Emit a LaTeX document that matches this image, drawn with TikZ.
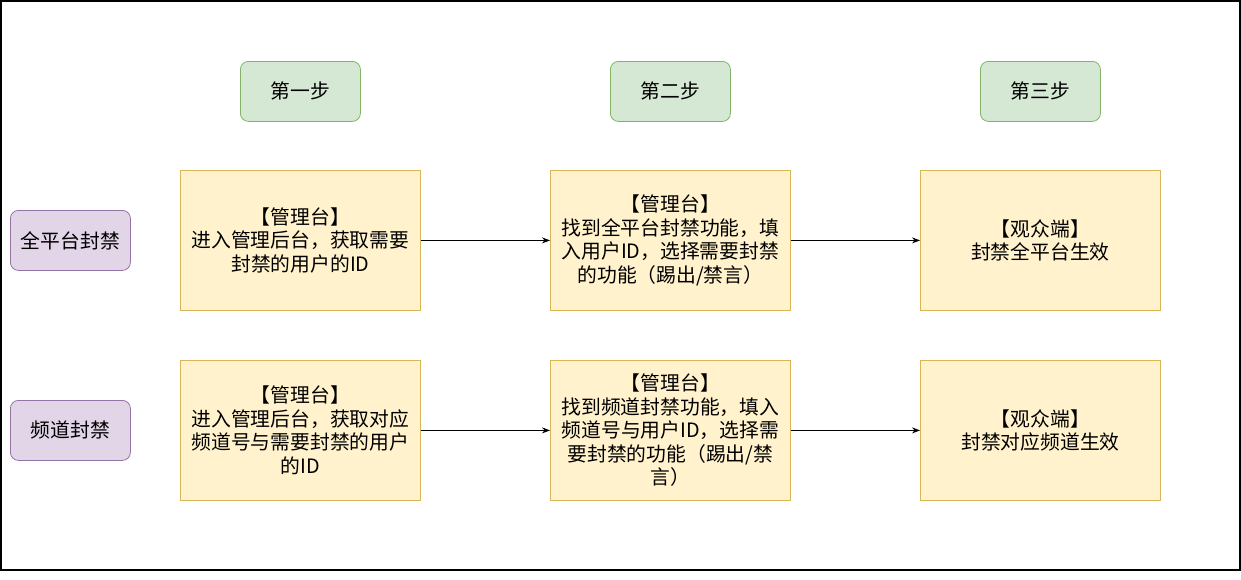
\documentclass[tikz,border=0pt]{standalone}
\usepackage{fontspec}
\setmainfont{Noto Sans CJK SC}
\usetikzlibrary{arrows.meta}
\definecolor{stepfill}{HTML}{D5E8D4}
\definecolor{stepdraw}{HTML}{82B366}
\definecolor{boxfill}{HTML}{FFF2CC}
\definecolor{boxdraw}{HTML}{D6B656}
\definecolor{catfill}{HTML}{E1D5E7}
\definecolor{catdraw}{HTML}{9673A6}
\begin{document}
\begin{tikzpicture}[x=1pt,y=-1pt,
  base/.style={draw, line width=0.8pt, align=center, font=\fontsize{19.8}{23.5}\selectfont, inner sep=0pt, anchor=north west},
  stepbox/.style={base, fill=stepfill, draw=stepdraw, rounded corners=8pt, minimum width=120pt, minimum height=60pt},
  catbox/.style={base, fill=catfill, draw=catdraw, rounded corners=8pt, minimum width=120pt, minimum height=60pt},
  mainbox/.style={base, fill=boxfill, draw=boxdraw, minimum width=240pt, minimum height=140pt},
  conn/.style={draw, line width=0.8pt, -{Stealth[length=8pt,width=6pt]}}
]
\useasboundingbox (0,0) rectangle (1241,579);
\draw[line width=1.5pt] (1,1) rectangle (1240,570);

\node[stepbox] (s1) at (240,61) {第一步};
\node[stepbox] (s2) at (610,61) {第二步};
\node[stepbox] (s3) at (980,61) {第三步};

\node[catbox] (c1) at (10,210) {全平台封禁};
\node[catbox] (c2) at (10,400) {频道封禁};

\node[mainbox] (a1) at (180,170) {【管理台】\\进入管理后台，获取需要\\封禁的用户的ID};
\node[mainbox] (a2) at (550,170) {【管理台】\\找到全平台封禁功能，填\\入用户ID，选择需要封禁\\的功能（踢出/禁言）};
\node[mainbox] (a3) at (920,170) {【观众端】\\封禁全平台生效};

\node[mainbox] (b1) at (180,360) {【管理台】\\进入管理后台，获取对应\\频道号与需要封禁的用户\\的ID};
\node[mainbox] (b2) at (550,360) {【管理台】\\找到频道封禁功能，填入\\频道号与用户ID，选择需\\要封禁的功能（踢出/禁\\言）};
\node[mainbox] (b3) at (920,360) {【观众端】\\封禁对应频道生效};

\draw[conn] (a1.east) -- (a2.west);
\draw[conn] (a2.east) -- (a3.west);
\draw[conn] (b1.east) -- (b2.west);
\draw[conn] (b2.east) -- (b3.west);
\end{tikzpicture}
\end{document}
